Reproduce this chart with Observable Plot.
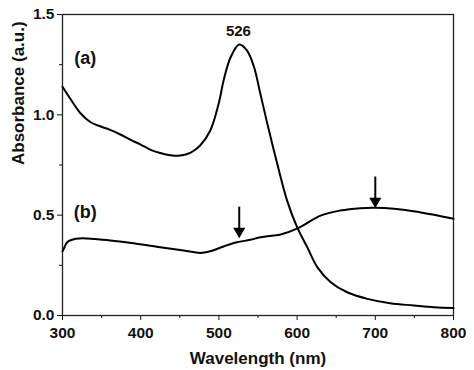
<!DOCTYPE html>
<html>
<head>
<meta charset="utf-8">
<script src="https://cdn.jsdelivr.net/npm/d3@7"></script>
<script src="https://cdn.jsdelivr.net/npm/@observablehq/plot@0.6"></script>
<style>
  html, body { margin: 0; padding: 0; background: #fff; }
</style>
</head>
<body>
<div id="chart"></div>
<script>
// Curve (a)
const aNm  = [300,310,323,336,349,361,374,387,400,412,425,438,451,464,476,489,500,506,515,526,536,545,553,562,575,587,600,613,626,643,664,690,719,749,775,800];
const aAbs = [1.14,1.08,1.008,0.963,0.942,0.925,0.902,0.875,0.852,0.827,0.81,0.799,0.797,0.812,0.847,0.922,1.06,1.171,1.287,1.35,1.32,1.237,1.105,0.955,0.75,0.575,0.44,0.34,0.24,0.166,0.116,0.083,0.061,0.05,0.041,0.037];
// Curve (b)
const bNm  = [300,302,306,317,332,361,391,425,455,476,489,506,523,540,553,570,579,602,630,655,681,700,724,749,775,800];
const bAbs = [0.32,0.335,0.365,0.382,0.384,0.374,0.36,0.34,0.324,0.312,0.32,0.344,0.365,0.377,0.39,0.399,0.404,0.437,0.498,0.523,0.535,0.537,0.532,0.52,0.502,0.482];
// Arrows
const arrowNm  = [526, 700];
const arrowTop = [0.54, 0.69];
const arrowTip = [0.41, 0.56];
// Annotations
const noteText = ["(a)", "(b)", "526"];
const noteNm   = [329, 329, 525];
const noteAbs  = [1.28, 0.513, 1.415];
const noteSize = [18, 18, 15];
// Ticks
const xMajor = [300,400,500,600,700,800];
const xMinor = [350,450,550,650,750];
const yMajor = [0, 0.5, 1.0, 1.5];
const yMinor = [0.25, 0.75, 1.25];
const xTitle = "Wavelength (nm)";
const yTitle = "Absorbance (a.u.)";

const aData = aNm.map((x, i) => ({x, y: aAbs[i]}));
const bData = bNm.map((x, i) => ({x, y: bAbs[i]}));
const arrows = arrowNm.map((x, i) => ({x, y1: arrowTop[i], y2: arrowTip[i]}));
const notes = noteText.map((t, i) => ({t, x: noteNm[i], y: noteAbs[i], s: noteSize[i]}));

const chart = Plot.plot({
  width: 474,
  height: 370,
  marginLeft: 62,
  marginRight: 21,
  marginTop: 14,
  marginBottom: 55,
  style: {fontFamily: "'Liberation Sans', Arial, sans-serif", fontWeight: "bold", fontSize: "15px", color: "#111", background: "#fff"},
  x: {domain: [300, 800]},
  y: {domain: [0, 1.5]},
  marks: [
    Plot.axisX({ticks: xMajor, tickSize: 5, tickPadding: 6, tickFormat: d3.format("d"), fontSize: 15.5, label: null}),
    Plot.axisX({ticks: xMinor, tickSize: 3, tickFormat: () => "", label: null}),
    Plot.axisY({ticks: yMajor, tickSize: 5, tickPadding: 3, tickFormat: d3.format(".1f"), fontSize: 15.5, label: null}),
    Plot.axisY({ticks: yMinor, tickSize: 3, tickFormat: () => "", label: null}),
    Plot.text([xTitle], {text: d => d, frameAnchor: "bottom", dy: 48, fontSize: 17, fontWeight: "bold", fill: "#111"}),
    Plot.text([yTitle], {text: d => d, frameAnchor: "left", dx: -44, rotate: -90, fontSize: 17, fontWeight: "bold", fill: "#111"}),
    Plot.frame({stroke: "#222", strokeWidth: 1.3}),
    Plot.line(aData, {x: "x", y: "y", curve: "catmull-rom", stroke: "#000", strokeWidth: 2}),
    Plot.line(bData, {x: "x", y: "y", curve: "catmull-rom", stroke: "#000", strokeWidth: 2}),
    Plot.ruleX(arrows, {x: "x", y1: "y1", y2: "y2", stroke: "#000", strokeWidth: 2}),
    Plot.dot(arrows, {x: "x", y: "y2", symbol: "triangle", rotate: 180, r: 4.5, fill: "#000", stroke: "none", dy: -2}),
    Plot.text(notes, {x: "x", y: "y", text: "t", fontSize: "s", fontWeight: "bold", fill: "#111"})
  ]
});
document.getElementById("chart").appendChild(chart);
</script>
</body>
</html>
